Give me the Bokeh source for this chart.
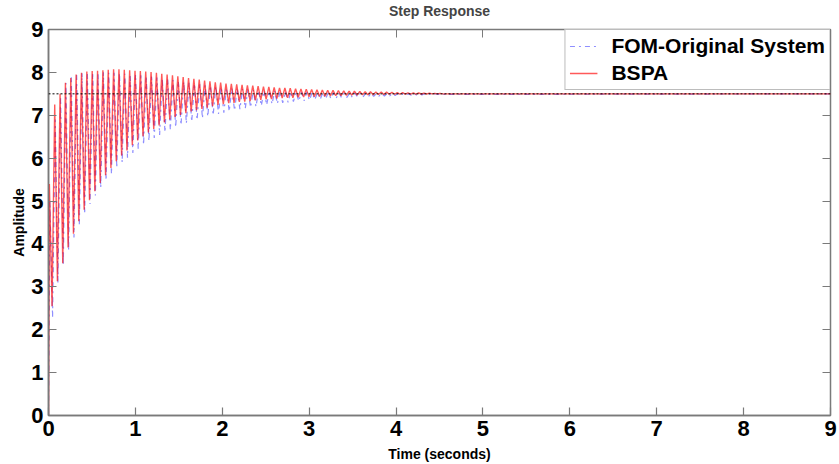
from bokeh.plotting import figure
from bokeh.models import (LinearAxis, FixedTicker, Span, Legend, LegendItem, Range1d,
                          CustomLabelingPolicy)
from bokeh.embed import file_html
from bokeh.resources import INLINE

# ---- data ----
TITLE = "Step Response"
X_LABEL = "Time (seconds)"
Y_LABEL = "Amplitude"
SERIES_NAMES = ["FOM-Original System", "BSPA"]
X_TICKS = [0, 1, 2, 3, 4, 5, 6, 7, 8, 9]
Y_TICKS = [0, 1, 2, 3, 4, 5, 6, 7, 8, 9]
STEADY_STATE = 7.5
T_END = 9.0

# time of first extreme and half-period of the oscillation (s)
RED_T_FIRST = 0.010
BLUE_T_FIRST = 0.016
HALF_PERIOD = 0.0308

bspa_peaks = [
    5.40, 7.25, 7.50, 7.76, 7.87, 7.95, 7.99, 8.02, 8.03, 8.04,
    8.05, 8.06, 8.07, 8.07, 8.06, 8.05, 8.04, 8.03, 8.02, 8.01,
    7.99, 7.97, 7.95, 7.93, 7.91, 7.89, 7.87, 7.85, 7.83, 7.81,
    7.79, 7.77, 7.76, 7.74, 7.73, 7.72, 7.71, 7.70, 7.69, 7.68,
    7.67, 7.66, 7.65, 7.64, 7.635, 7.63, 7.62, 7.615, 7.61, 7.60,
    7.595, 7.59, 7.585, 7.58, 7.575, 7.57, 7.565, 7.56, 7.555, 7.55,
    7.548, 7.545, 7.542, 7.54, 7.535, 7.53, 7.528, 7.525, 7.522, 7.52,
    7.518, 7.515, 7.512, 7.51,
]
bspa_troughs = [
    2.55, 3.13, 3.55, 3.92, 4.24, 4.53, 4.80, 5.02, 5.23, 5.42,
    5.60, 5.77, 5.93, 6.06, 6.18, 6.30, 6.41, 6.51, 6.60, 6.68,
    6.76, 6.83, 6.90, 6.96, 7.01, 7.05, 7.09, 7.12, 7.15, 7.18,
    7.21, 7.24, 7.26, 7.28, 7.29, 7.31, 7.32, 7.33, 7.35, 7.36,
    7.37, 7.38, 7.39, 7.40, 7.405, 7.41, 7.42, 7.425, 7.43, 7.435,
    7.44, 7.445, 7.45, 7.455, 7.46, 7.465, 7.47, 7.47, 7.475, 7.48,
    7.48, 7.485, 7.485, 7.49, 7.49, 7.49, 7.492, 7.494, 7.495, 7.496,
    7.497, 7.498, 7.498, 7.499,
]
fom_peaks = [
    5.00, 6.90, 7.40, 7.75, 7.90, 7.95, 7.98, 8.00, 8.00, 8.00,
    8.00, 7.99, 7.99, 7.98, 7.97, 7.96, 7.95, 7.93, 7.92, 7.90,
    7.88, 7.86, 7.84, 7.82, 7.80, 7.78, 7.76, 7.74, 7.72, 7.70,
    7.69, 7.67, 7.66, 7.64, 7.63, 7.62, 7.61, 7.60, 7.59, 7.58,
    7.575, 7.57, 7.565, 7.56, 7.555, 7.55, 7.545, 7.54, 7.537, 7.535,
    7.532, 7.53, 7.527, 7.525, 7.522, 7.52, 7.518, 7.516, 7.514, 7.512,
    7.51, 7.509, 7.508, 7.507, 7.506, 7.505, 7.504, 7.503, 7.503, 7.502,
    7.502, 7.501, 7.501, 7.50,
]
fom_troughs = [
    2.30, 3.10, 3.50, 3.85, 4.15, 4.45, 4.70, 4.93, 5.13, 5.31,
    5.48, 5.63, 5.77, 5.90, 6.01, 6.12, 6.22, 6.31, 6.40, 6.47,
    6.54, 6.60, 6.66, 6.72, 6.77, 6.81, 6.85, 6.89, 6.93, 6.97,
    7.00, 7.03, 7.06, 7.09, 7.11, 7.14, 7.16, 7.18, 7.20, 7.22,
    7.24, 7.26, 7.27, 7.29, 7.30, 7.32, 7.33, 7.34, 7.35, 7.36,
    7.37, 7.38, 7.39, 7.40, 7.41, 7.415, 7.42, 7.425, 7.43, 7.435,
    7.44, 7.445, 7.45, 7.455, 7.46, 7.465, 7.47, 7.47, 7.475, 7.475,
    7.48, 7.48, 7.485, 7.485,
]


def build(peaks, troughs, t_first):
    ts, ys = [0.0], [0.0]
    j = 0
    for pk, tr in zip(peaks, troughs):
        ts.append(t_first + j * HALF_PERIOD)
        ys.append(pk)
        j += 1
        ts.append(t_first + j * HALF_PERIOD)
        ys.append(tr)
        j += 1
    ts.append(T_END)
    ys.append(STEADY_STATE)
    return ts, ys


t_red, y_red = build(bspa_peaks, bspa_troughs, RED_T_FIRST)
t_blue, y_blue = build(fom_peaks, fom_troughs, BLUE_T_FIRST)

FONT = "Liberation Sans"
GREY = "#7a7a7a"

p = figure(width=839, height=464, output_backend="svg", toolbar_location=None,
           x_range=Range1d(0, 9), y_range=Range1d(0, 9),
           min_border_left=48, min_border_right=9, min_border_top=28,
           min_border_bottom=48, title=TITLE,
           x_axis_label=X_LABEL, y_axis_label=Y_LABEL)
p.background_fill_color = "white"
p.border_fill_color = "white"
p.outline_line_color = GREY
p.outline_line_width = 1.5
p.grid.visible = False

p.title.align = "center"
p.title.text_font = FONT
p.title.text_font_style = "bold"
p.title.text_font_size = "14px"
p.title.standoff = 0


def style_axis(ax, ticks):
    ax.ticker = FixedTicker(ticks=ticks)
    ax.axis_line_color = GREY
    ax.axis_line_width = 1.5
    ax.major_tick_line_color = GREY
    ax.major_tick_line_width = 1.2
    ax.major_tick_in = 8
    ax.major_tick_out = 0
    ax.minor_tick_line_color = None
    ax.major_label_text_font = FONT
    ax.major_label_text_font_style = "bold"
    ax.major_label_text_font_size = "22px"
    ax.major_label_text_color = "black"
    ax.major_label_standoff = 5
    ax.axis_label_text_font = FONT
    ax.axis_label_text_font_style = "bold"
    ax.axis_label_text_font_size = "14px"
    ax.axis_label_text_color = "black"


for ax in p.xaxis:
    style_axis(ax, X_TICKS)
    ax.axis_label_standoff = 7
for ax in p.yaxis:
    style_axis(ax, Y_TICKS)
    ax.axis_label_standoff = 1

NO_LABELS = "for (const i of Array.from(indices)) indices.unset(i); return indices"

top_ax = LinearAxis(ticker=FixedTicker(ticks=X_TICKS),
                    major_label_policy=CustomLabelingPolicy(code=NO_LABELS),
                    major_label_standoff=0, major_tick_in=8, major_tick_out=0,
                    major_tick_line_color=GREY, minor_tick_line_color=None,
                    axis_line_color=None)
right_ax = LinearAxis(ticker=FixedTicker(ticks=Y_TICKS),
                      major_label_policy=CustomLabelingPolicy(code=NO_LABELS),
                      major_label_standoff=0, major_tick_in=8, major_tick_out=0,
                      major_tick_line_color=GREY, minor_tick_line_color=None,
                      axis_line_color=None)
p.add_layout(top_ax, "above")
p.add_layout(right_ax, "right")

ss = Span(location=STEADY_STATE, dimension="width", line_color="black",
          line_dash="2 2", line_width=1)
p.add_layout(ss)

r_blue = p.line(t_blue, y_blue, line_color="#3333ff", line_width=1.2, line_alpha=0.55,
                line_dash="5 4 2 4")
r_red = p.line(t_red, y_red, line_color="#ff0000", line_width=1.4, line_alpha=0.65)

legend = Legend(items=[LegendItem(label=SERIES_NAMES[0], renderers=[r_blue]),
                       LegendItem(label=SERIES_NAMES[1], renderers=[r_red])],
                location="top_right", margin=0, padding=4, spacing=3,
                glyph_width=28, glyph_height=24, label_height=24,
                label_standoff=14,
                label_text_font=FONT, label_text_font_style="bold",
                label_text_font_size="21px", label_text_color="black",
                border_line_color=GREY, border_line_width=1,
                background_fill_color="white", background_fill_alpha=1.0)
p.add_layout(legend)

open("out.html", "w").write(file_html(p, INLINE))
